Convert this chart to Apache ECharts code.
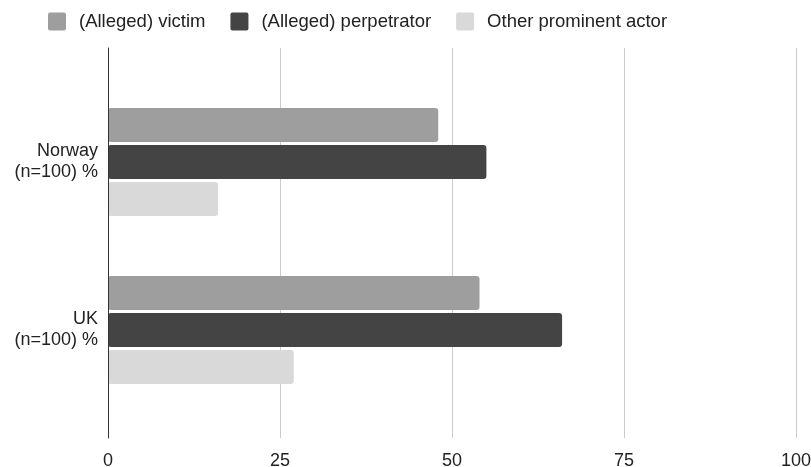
<!DOCTYPE html>
<html>
<head>
<meta charset="utf-8">
<script src="https://cdn.jsdelivr.net/npm/echarts@6/dist/echarts.min.js"></script>
<style>html,body{margin:0;padding:0;background:#fff}#c{width:811px;height:467px}</style>
</head>
<body>
<div id="c"></div>
<script>
const categories = ['Norway\n(n=100) %', 'UK\n(n=100) %'];
const seriesNames = ['(Alleged) victim', '(Alleged) perpetrator', 'Other prominent actor'];
const victim = [48, 54];
const perpetrator = [55, 66];
const otherActor = [16, 27];
const xTicks = [0, 25, 50, 75, 100];
const colors = ['#9e9e9e', '#444444', '#d9d9d9'];

const chart = echarts.init(document.getElementById('c'), null, {renderer: 'canvas'});
const font = 'Liberation Sans, Arial, sans-serif';
const mk = (name, data, color) => ({
  name, type: 'bar', data, xAxisIndex: 0, yAxisIndex: 0,
  barWidth: 34, barGap: '9%',
  itemStyle: {color, borderRadius: 3},
  emphasis: {disabled: true}
});
chart.setOption({
  animation: false,
  textStyle: {fontFamily: font},
  legend: {
    left: 48, top: 12, padding: 0,
    itemWidth: 18, itemHeight: 18, itemGap: 25,
    icon: 'path://M2,0 L16,0 Q18,0 18,2 L18,16 Q18,18 16,18 L2,18 Q0,18 0,16 L0,2 Q0,0 2,0 Z',
    textStyle: {fontSize: 18.5, color: '#222', fontFamily: font, padding: [0, 0, 0, 8]},
    data: seriesNames
  },
  grid: [
    {left: 108, right: 15, top: 78, bottom: 53, outerBoundsMode: 'none', containLabel: false},
    {left: 108, right: 15, top: 48, bottom: 29, outerBoundsMode: 'none', containLabel: false}
  ],
  xAxis: [
    {gridIndex: 0, type: 'value', min: 0, max: 100, interval: 25,
     axisLabel: {show: false}, splitLine: {show: false}, axisLine: {show: false}, axisTick: {show: false}},
    {gridIndex: 1, type: 'value', min: 0, max: 100, interval: 25,
     axisLabel: {show: true, fontSize: 18, color: '#222', margin: 14, fontFamily: font,
       formatter: v => xTicks.includes(v) ? String(v) : ''},
     splitLine: {show: true, lineStyle: {color: '#cccccc', width: 1}},
     axisLine: {show: false}, axisTick: {show: false}}
  ],
  yAxis: [
    {gridIndex: 0, type: 'category', data: categories, inverse: true,
     axisLine: {show: false}, axisTick: {show: false},
     axisLabel: {fontSize: 18, color: '#222', lineHeight: 21, margin: 10, align: 'right', fontFamily: font}},
    {gridIndex: 1, type: 'category', data: [''],
     axisLine: {show: true, lineStyle: {color: '#333', width: 1}}, axisTick: {show: false},
     axisLabel: {show: false}, z: 5}
  ],
  series: [
    mk(seriesNames[0], victim, colors[0]),
    mk(seriesNames[1], perpetrator, colors[1]),
    mk(seriesNames[2], otherActor, colors[2])
  ]
});
</script>
</body>
</html>
